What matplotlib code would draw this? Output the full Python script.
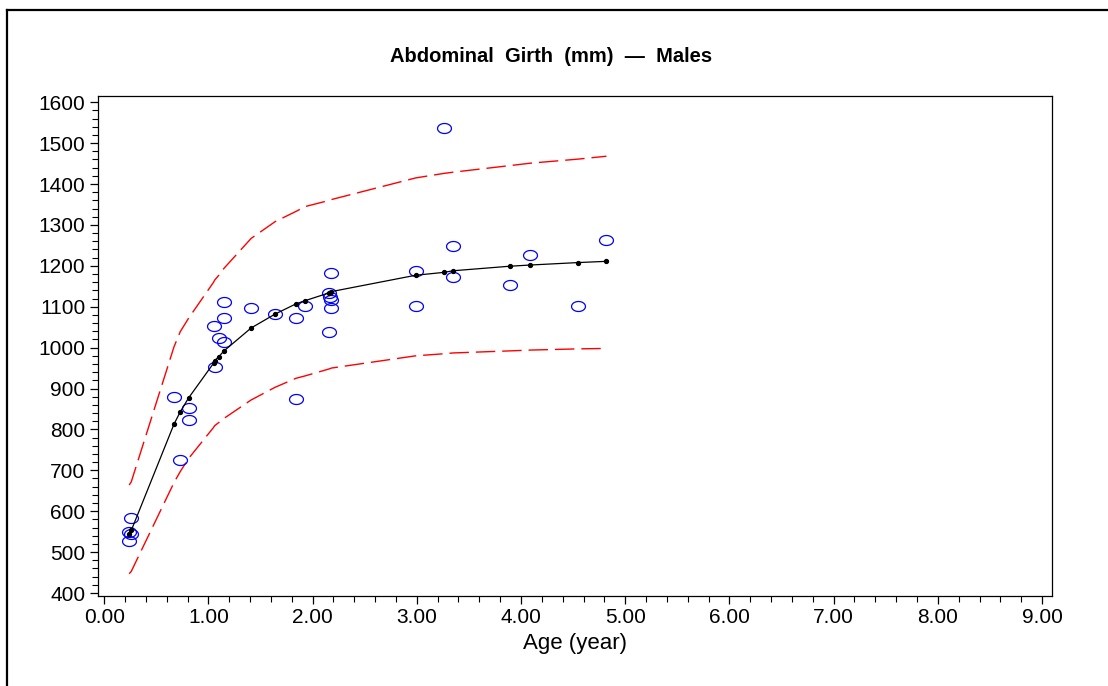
import numpy as np
import matplotlib
matplotlib.use("Agg")
import matplotlib.pyplot as plt
from matplotlib.path import Path
from matplotlib.ticker import MultipleLocator, FormatStrFormatter
from matplotlib.lines import Line2D

# observed values (age in years, girth in mm)
obs_age = [0.26, 0.24, 0.26, 0.24, 0.67, 0.73, 0.81, 0.81,
           1.05, 1.06, 1.10, 1.15, 1.15, 1.15, 1.41, 1.64,
           1.84, 1.84, 1.93, 2.16, 2.17, 2.18, 2.18, 2.16, 2.18,
           2.99, 2.99, 3.26, 3.35, 3.35, 3.89, 4.09, 4.55, 4.82]
obs_val = [583, 550, 544, 527, 880, 725, 853, 823,
           1053, 953, 1023, 1111, 1072, 1014, 1097, 1082,
           1073, 874, 1102, 1133, 1125, 1117, 1098, 1037, 1183,
           1187, 1101, 1536, 1248, 1173, 1152, 1227, 1102, 1263]

# fitted curve and prediction limits at each observed age
fit_age = [0.24, 0.26, 0.67, 0.73, 0.81, 1.05, 1.06, 1.10, 1.15, 1.41, 1.64,
           1.84, 1.93, 2.16, 2.18, 2.99, 3.26, 3.35, 3.89, 4.09, 4.55, 4.82]
fit_val = [545, 553, 813, 843, 877, 962, 968, 978, 992, 1048, 1082,
           1107, 1115, 1134, 1137, 1177, 1184, 1188, 1199, 1202, 1208, 1211]
upper = [664, 672, 1002, 1039, 1072, 1160, 1165, 1177, 1194, 1267, 1308,
         1333, 1345, 1360, 1362, 1415, 1426, 1429, 1445, 1451, 1461, 1468]
lower = [447, 453, 670, 697, 729, 805, 809, 817, 827, 872, 903,
         925, 931, 948, 950, 980, 985, 987, 992, 994, 997, 998]

xticks = np.arange(0, 10, 1)
yticks = np.arange(400, 1700, 100)

plt.rcParams['font.family'] = ['Liberation Sans', 'DejaVu Sans']

fig = plt.figure(figsize=(11.08, 6.86), dpi=100)
ax = fig.add_axes([0.0882, 0.1312, 0.8613, 0.7293])

# ellipse marker like the SAS circle symbol
t = np.linspace(0, 2 * np.pi, 60)
ell = Path(np.column_stack([np.cos(t), 0.72 * np.sin(t)]), closed=True)

ax.plot(fit_age, upper, color='red', lw=1.0, dashes=(14, 5))
ax.plot(fit_age, lower, color='red', lw=1.0, dashes=(14, 5))
ax.plot(obs_age, obs_val, linestyle='none', marker=ell, markersize=10,
        markerfacecolor='none', markeredgecolor='#0000ff', markeredgewidth=0.9)
ax.plot(fit_age, fit_val, color='black', lw=0.9, marker='o', markersize=2.8)

ax.set_xlim(-0.062, 9.096)
ax.set_ylim(392.7, 1616)
ax.set_xticks(xticks)
ax.set_yticks(yticks)
ax.xaxis.set_major_formatter(FormatStrFormatter('%.2f'))
ax.xaxis.set_minor_locator(MultipleLocator(0.2))
ax.yaxis.set_minor_locator(MultipleLocator(20))
ax.tick_params(which='major', length=6, width=0.9, labelsize=15, pad=3)
ax.tick_params(which='minor', length=4, width=0.8)
for s in ax.spines.values():
    s.set_linewidth(0.9)

ax.set_xlabel('Age (year)', fontsize=16, labelpad=4)
fig.text(0.497, 0.917, 'Abdominal  Girth  (mm)  \u2014  Males', ha='center',
         va='center', fontsize=14.5, fontweight='bold')

# outer frame (top and left edges visible)
fig.add_artist(Line2D([7 / 1108, 1], [1 - 10 / 686, 1 - 10 / 686],
                      transform=fig.transFigure, color='black', lw=1.6))
fig.add_artist(Line2D([7 / 1108, 7 / 1108], [0, 1 - 10 / 686],
                      transform=fig.transFigure, color='black', lw=1.6))

fig.savefig('out.png', dpi=100)
